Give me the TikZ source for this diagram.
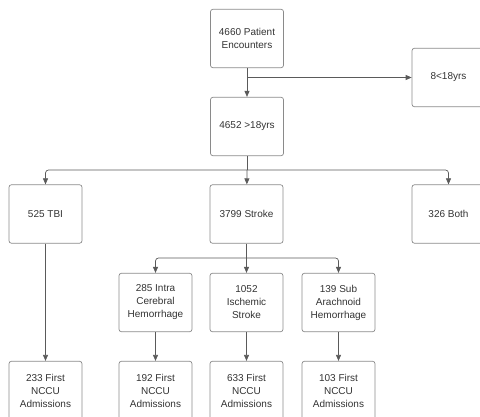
\documentclass[tikz,border=0pt]{standalone}
\usepackage{fontspec}
\setmainfont{Liberation Sans}
\usetikzlibrary{arrows.meta}
\definecolor{boxgray}{HTML}{8A8A8A}
\definecolor{linegray}{HTML}{5A5A5A}
\definecolor{txtgray}{HTML}{333333}
\begin{document}
\begin{tikzpicture}[x=1pt,y=-1pt,>={Triangle[length=6pt,width=5pt]},line width=0.7pt,
	box/.style={draw=boxgray,rounded corners=2.5pt,minimum width=73pt,minimum height=58.5pt,align=center,text=txtgray,inner sep=1pt,font=\fontsize{10}{13}\selectfont},
	conn/.style={draw=linegray,rounded corners=3pt}]
				\useasboundingbox (0,0) rectangle (480,417);
				\node[box] (enc) at (247,38.5) {4660 Patient\\Encounters};
				\node[box] (minor) at (448.5,77.5) {8<18yrs};
				\node[box] (adult) at (247,126.5) {4652 >18yrs};
				\node[box] (tbi) at (45.5,214) {525 TBI};
				\node[box] (stroke) at (246.5,214) {3799 Stroke};
				\node[box] (both) at (448.5,214) {326 Both};
				\node[box] (ich) at (155.5,302.5) {285 Intra\\Cerebral\\Hemorrhage};
				\node[box] (isch) at (246.5,302.5) {1052\\Ischemic\\Stroke};
				\node[box] (sah) at (338.5,302.5) {139 Sub\\Arachnoid\\Hemorrhage};
				\node[box] (tbiadm) at (45.5,390.5) {233 First\\NCCU\\Admissions};
				\node[box] (ichadm) at (155.5,390.5) {192 First\\NCCU\\Admissions};
				\node[box] (ischadm) at (246.5,390.5) {633 First\\NCCU\\Admissions};
				\node[box] (sahadm) at (338.5,390.5) {103 First\\NCCU\\Admissions};
				\coordinate (split1) at (247,77.5);
				\coordinate (split2) at (247,170);
				\coordinate (split3) at (246.5,258);
				\draw[conn,->] (enc) -- (adult);
				\draw[conn,->] (split1) -- (minor);
				\draw[conn] (adult) -- (split2);
				\draw[conn,->] (split2) -| (tbi);
				\draw[conn,->] (split2) -- (stroke);
				\draw[conn,->] (split2) -| (both);
				\draw[conn] (stroke) -- (split3);
				\draw[conn,->] (split3) -| (ich);
				\draw[conn,->] (split3) -- (isch);
				\draw[conn,->] (split3) -| (sah);
				\draw[conn,->] (tbi) -- (tbiadm);
				\draw[conn,->] (ich) -- (ichadm);
				\draw[conn,->] (isch) -- (ischadm);
				\draw[conn,->] (sah) -- (sahadm);
\end{tikzpicture}
\end{document}
